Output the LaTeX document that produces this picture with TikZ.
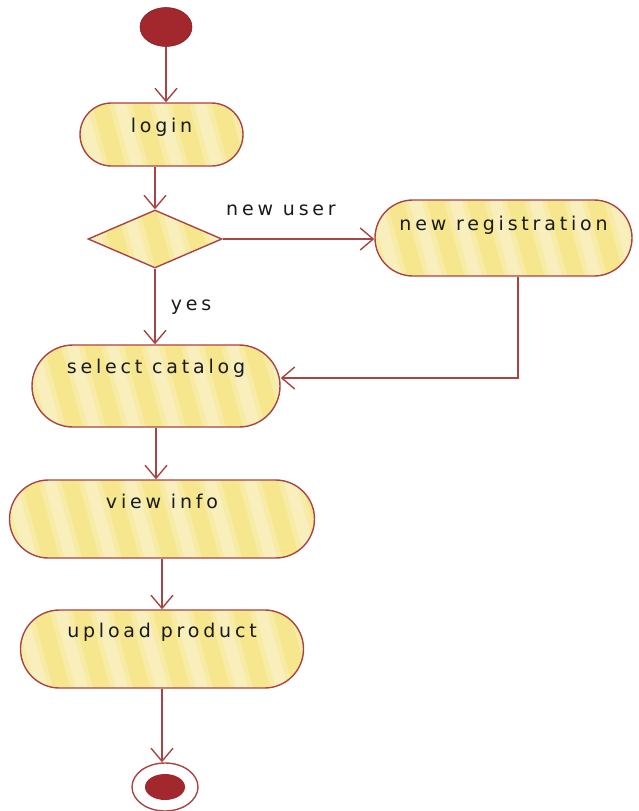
\documentclass[tikz,border=0pt]{standalone}
\usepackage{fontspec}
\setmainfont{DejaVu Sans}
\newfontfamily\lblfont[LetterSpace=20]{DejaVu Sans}
\usetikzlibrary{shapes.misc,shapes.geometric,arrows.meta}
\definecolor{edgered}{HTML}{A84444}
\definecolor{dotred}{HTML}{A3282D}
\definecolor{fillbase}{HTML}{F6E78E}
\definecolor{filllight}{HTML}{FAF3D0}
\definecolor{txt}{HTML}{1A1A1A}
\tikzset{
  stripes/.style={path picture={
    \fill[fillbase] (path picture bounding box.south west) rectangle (path picture bounding box.north east);
    \foreach \k in {-6,...,14} {
      \draw[filllight, line width=22pt, opacity=0.35]
        ([xshift=\k*40pt]path picture bounding box.north west) -- ++(30pt,-110pt);
      \draw[filllight, line width=12pt, opacity=0.55]
        ([xshift=\k*40pt]path picture bounding box.north west) -- ++(30pt,-110pt);
    }
  }},
  actbox/.style={rounded rectangle, draw=edgered, line width=1.4pt, stripes,
    minimum width=#1, inner sep=0pt, text height=14pt, font=\lblfont\fontsize{19}{22}\selectfont, text=txt},
  decbox/.style={diamond, draw=edgered, line width=1.4pt, stripes, inner sep=0pt,
    minimum width=134pt, minimum height=58pt, aspect=2.3},
  lbl/.style={font=\lblfont\fontsize{19}{22}\selectfont, text=txt, inner sep=0pt},
  flow/.style={draw=edgered, line width=1.5pt, -{Straight Barb[length=13pt,width=22pt,line width=1.4pt]}},
}
\begin{document}
\begin{tikzpicture}[x=1pt,y=-1pt]
\useasboundingbox (0,0) rectangle (638,811);
\node[ellipse, fill=dotred, draw=dotred!80!black, line width=0.6pt, minimum width=52pt, minimum height=39pt, inner sep=0pt] (start) at (166,27) {};
\node[actbox=163pt, minimum height=63pt, text depth=18pt] (login) at (161.5,134.5) {login};
\node[decbox] (dec) at (155,239) {};
\node[actbox=257pt, minimum height=76pt, text depth=29pt] (newreg) at (503.5,238) {new registration};
\node[actbox=248pt, minimum height=82pt, text depth=39pt] (select) at (156,386) {select catalog};
\node[actbox=305pt, minimum height=78pt, text depth=35pt] (view) at (162,519) {view info};
\node[actbox=283pt, minimum height=78pt, text depth=37pt] (upload) at (162,649) {upload product};
\node[ellipse, draw=edgered, line width=1.4pt, fill=white, minimum width=66pt, minimum height=48pt, inner sep=0pt,
  path picture={\fill[dotred] (path picture bounding box.center) ellipse (20pt and 13pt);}] (end) at (165,787) {};
\node[lbl] (lnew) at (281,210) {new user};
\node[lbl] (lyes) at (191,307) {yes};
\coordinate (bend) at (518,378);
\draw[flow] (start) -- (start |- login.north);
\draw[flow] (login.south -| dec.north) -- (dec.north);
\draw[flow] (dec.east) -- (dec.east -| newreg.west);
\draw[flow] (dec.south) -- (dec.south |- select.north);
\draw[flow] (newreg.south -| bend) -- (bend) -- (bend -| select.east);
\draw[flow] (select.south) -- (select.south |- view.north);
\draw[flow] (view.south) -- (view.south |- upload.north);
\draw[flow] (upload.south) -- (upload.south |- end.north);
\end{tikzpicture}
\end{document}
